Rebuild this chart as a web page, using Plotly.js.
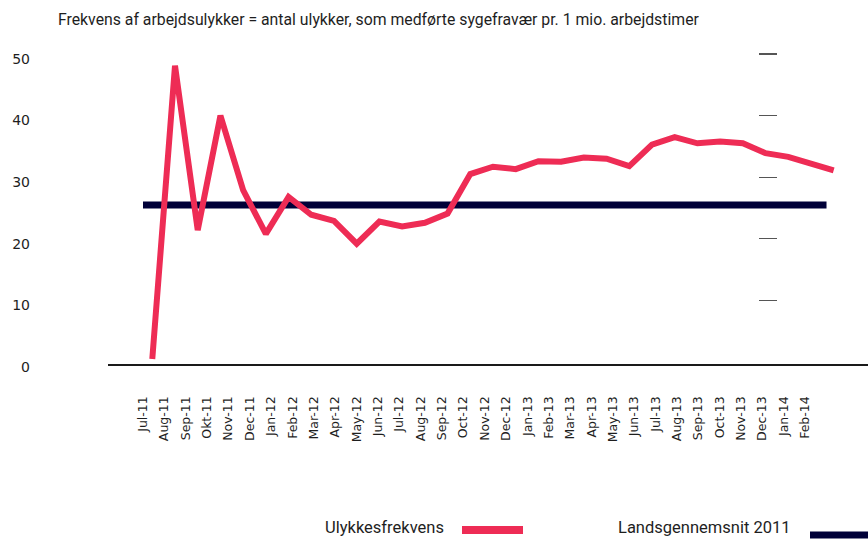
<!DOCTYPE html>
<html>
<head>
<meta charset="utf-8">
<script src="https://cdn.plot.ly/plotly-3.0.1.min.js"></script>
<style>
html,body{margin:0;padding:0;background:#fff;}
#chart{width:868px;height:539px;}
</style>
</head>
<body>
<div id="chart"></div>
<script>
// Category axis (33 months; the last one has no printed label)
const axisMonths = ['Jul-11','Aug-11','Sep-11','Okt-11','Nov-11','Dec-11','Jan-12','Feb-12','Mar-12','Apr-12','May-12','Jun-12','Jul-12','Aug-12','Sep-12','Oct-12','Nov-12','Dec-12','Jan-13','Feb-13','Mar-13','Apr-13','May-13','Jun-13','Jul-13','Aug-13','Sep-13','Oct-13','Nov-13','Dec-13','Jan-14','Feb-14','Mar-14'];
const tickLabels = ['Jul-11','Aug-11','Sep-11','Okt-11','Nov-11','Dec-11','Jan-12','Feb-12','Mar-12','Apr-12','May-12','Jun-12','Jul-12','Aug-12','Sep-12','Oct-12','Nov-12','Dec-12','Jan-13','Feb-13','Mar-13','Apr-13','May-13','Jun-13','Jul-13','Aug-13','Sep-13','Oct-13','Nov-13','Dec-13','Jan-14','Feb-14'];

// Ulykkesfrekvens (secondary category axis, 31 points)
const freqMonths = ['Jul-11','Aug-11','Sep-11','Okt-11','Nov-11','Dec-11','Jan-12','Feb-12','Mar-12','Apr-12','May-12','Jun-12','Jul-12','Aug-12','Sep-12','Oct-12','Nov-12','Dec-12','Jan-13','Feb-13','Mar-13','Apr-13','May-13','Jun-13','Jul-13','Aug-13','Sep-13','Oct-13','Nov-13','Dec-13','Jan-14'];
const freqValues = [0.5, 48.1, 21.4, 40.0, 27.9, 20.8, 26.8, 23.9, 22.9, 19.2, 22.8, 22.0, 22.6, 24.1, 30.5, 31.7, 31.3, 32.6, 32.5, 33.2, 33.0, 31.8, 35.3, 36.5, 35.5, 35.8, 35.5, 33.9, 33.3, 32.1, 31.1];

// Landsgennemsnit 2011
const avgValues = [25.5,25.5,25.5,25.5,25.5,25.5,25.5,25.5,25.5,25.5,25.5,25.5,25.5,25.5,25.5,25.5,25.5,25.5,25.5,25.5,25.5,25.5,25.5,25.5,25.5,25.5,25.5,25.5,25.5,25.5,25.5,25.5,25.5];

const yTicks = [0, 10, 20, 30, 40, 50];
const rightTicks = [10, 20, 30, 40, 50];

const titleText = 'Frekvens af arbejdsulykker = antal ulykker, som medførte sygefravær pr. 1 mio. arbejdstimer';
const legendFreq = 'Ulykkesfrekvens';
const legendAvg = 'Landsgennemsnit 2011';

const RED = '#ee2c55';
const NAVY = '#000038';
const W = 868, H = 539;
const px = v => v / W;
const py = v => (H - v) / H;
const yRange = [-0.373, 52.27];

const traces = [
  {x: axisMonths, y: avgValues, type: 'scatter', mode: 'lines', xaxis: 'x', yaxis: 'y',
   line: {color: NAVY, width: 7}, hoverinfo: 'skip', showlegend: false},
  {x: freqMonths, y: freqValues, type: 'scatter', mode: 'lines', xaxis: 'x2', yaxis: 'y2',
   line: {color: RED, width: 6}, hoverinfo: 'skip', showlegend: false}
];

const layout = {
  width: W, height: H,
  margin: {l: 0, r: 0, t: 0, b: 0},
  paper_bgcolor: '#fff', plot_bgcolor: 'rgba(0,0,0,0)',
  showlegend: false,
  title: {text: titleText, xref: 'container', yref: 'container', x: px(58), xanchor: 'left',
          y: py(19), yanchor: 'middle', font: {family: 'Roboto', size: 15.8, color: '#1e1e1e'}},
  xaxis: {type: 'category', categoryorder: 'array', categoryarray: axisMonths,
          domain: [px(108), 1], range: [-1.6386, 33.942], anchor: 'y',
          tickmode: 'array', tickvals: tickLabels, ticktext: tickLabels, tickangle: -90,
          ticks: '', ticklabelstandoff: 25, showgrid: false, zeroline: false,
          showline: true, linecolor: '#1a1a1a', linewidth: 2,
          tickfont: {family: 'DejaVu Sans', size: 12.5, color: '#1e1e1e'}},
  xaxis2: {type: 'category', categoryorder: 'array', categoryarray: freqMonths,
           domain: [px(108), 1], range: [-1.950, 31.511], overlaying: 'x', anchor: 'y',
           visible: false},
  yaxis: {domain: [py(364.3), py(40)], range: yRange, anchor: 'free', position: px(30),
          tickmode: 'array', tickvals: yTicks, ticks: '', showline: false, showgrid: false,
          zeroline: false, ticklabelshift: 5,
          tickfont: {family: 'DejaVu Sans', size: 14, color: '#1e1e1e'}},
  yaxis2: {domain: [py(364.3), py(40)], range: yRange, overlaying: 'y', anchor: 'free',
           position: px(757.7), side: 'right', tickmode: 'array', tickvals: rightTicks,
           ticks: 'outside', ticklen: 18, tickwidth: 1.3, tickcolor: '#555',
           showticklabels: false, showline: false, showgrid: false, zeroline: false},
  annotations: [
    {text: legendFreq, xref: 'paper', yref: 'paper', x: px(323), y: py(527.5), xanchor: 'left',
     yanchor: 'middle', showarrow: false, font: {family: 'Roboto', size: 16.5, color: '#1e1e1e'}},
    {text: legendAvg, xref: 'paper', yref: 'paper', x: px(616), y: py(527.5), xanchor: 'left',
     yanchor: 'middle', showarrow: false, font: {family: 'Roboto', size: 16.5, color: '#1e1e1e'}}
  ],
  shapes: [
    {type: 'line', xref: 'paper', yref: 'paper', x0: px(462), x1: px(523), y0: py(530), y1: py(530),
     line: {color: RED, width: 8}},
    {type: 'line', xref: 'paper', yref: 'paper', x0: px(810), x1: px(872), y0: py(535), y1: py(535),
     line: {color: NAVY, width: 7}}
  ]
};

Plotly.newPlot('chart', traces, layout, {staticPlot: true, displayModeBar: false});
</script>
</body>
</html>
